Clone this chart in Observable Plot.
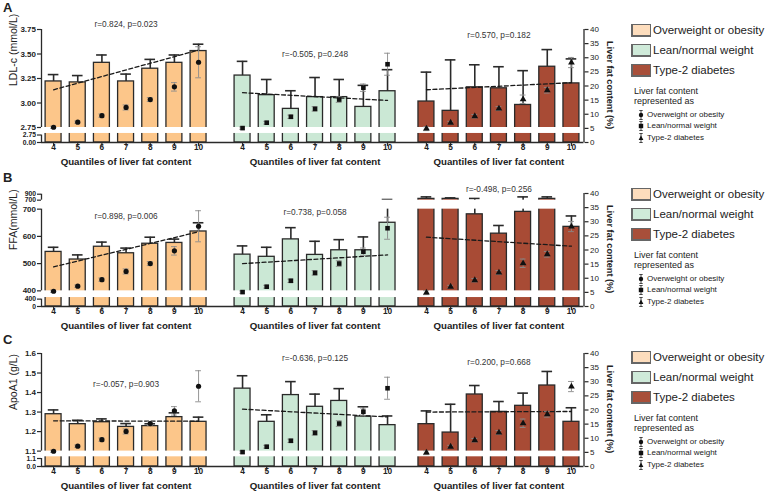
<!DOCTYPE html>
<html><head><meta charset="utf-8">
<script src="https://cdn.jsdelivr.net/npm/d3@7"></script>
<script src="https://cdn.jsdelivr.net/npm/@observablehq/plot@0.6"></script>
<style>
body{margin:0;background:#fff;font-family:"Liberation Sans",Arial,sans-serif;color:#222;}
#root{position:relative;width:767px;height:491px;overflow:hidden;background:#fff;}
.panel{position:absolute;left:0;}
.letter{position:absolute;left:3px;font-weight:bold;font-size:13px;line-height:13px;}
.rtitle{position:absolute;left:604px;width:12px;height:113px;writing-mode:vertical-rl;text-align:center;font-weight:bold;font-size:9.2px;line-height:12px;white-space:nowrap;color:#222;}
.legend{position:absolute;left:0;width:767px;height:160px;pointer-events:none;}
.legend .box{position:absolute;left:631px;width:17px;height:10px;border:1px solid #666;border-left-width:2px;border-bottom-width:2px;}
.legend .big{position:absolute;left:653px;font-size:11.5px;line-height:12px;white-space:nowrap;}
.legend .small{position:absolute;left:634px;font-size:9px;line-height:10px;white-space:nowrap;}
.legend .entry{position:absolute;left:637px;font-size:8px;line-height:10px;white-space:nowrap;display:flex;align-items:center;gap:2px;}
</style></head><body><div id="root"></div><script>
// ---------- data ----------
const quantiles = [4, 5, 6, 7, 8, 9, 10];
const groups = ["Overweight or obesity", "Lean/normal weight", "Type-2 diabetes"];

// Liver fat content (%) per quantile (right axis markers)
const fatObese = [5.4, 7.2, 9.5, 12.4, 15.2, 19.7, 28.4];
const fatObeseSem = [0.4, 0.4, 0.6, 0.9, 0.7, 1.5, 5.5];
const fatLean = [5.1, 7.0, 9.1, 11.9, 15.2, 19.4, 27.7];
const fatLeanSem = [0.4, 0.5, 0.6, 0.8, 1.0, 1.3, 3.9];
const fatT2d = [4.9, 7.0, 9.3, 12.0, 15.3, 18.5, 28.3];
const fatT2dSem = [0.7, 0.5, 0.6, 0.7, 1.5, 1.0, 1.8];

// Panel A: LDL-c (mmol/L)
const ldlObese = [3.22, 3.21, 3.41, 3.22, 3.35, 3.41, 3.53];
const ldlObeseSem = [0.07, 0.07, 0.08, 0.075, 0.095, 0.08, 0.07];
const ldlObeseTrend = [3.135, 3.54];
const ldlLean = [3.28, 3.08, 2.94, 3.06, 3.06, 2.96, 3.12];
const ldlLeanSem = [0.145, 0.16, 0.185, 0.2, 0.18, 0.22, 0.22];
const ldlLeanTrend = [3.105, 3.026];
const ldlT2d = [3.015, 2.92, 3.16, 3.15, 2.98, 3.37, 3.20];
const ldlT2dSem = [0.30, 0.52, 0.23, 0.22, 0.35, 0.175, 0.25];
const ldlT2dTrend = [3.135, 3.207];
const ldlStats = ["r=0.824, p=0.023", "r=-0.505, p=0.248", "r=0.570, p=0.182"];
const ldlTickLower = [0, 2.75];
const ldlTickMain = [2.75, 3.00, 3.25, 3.50, 3.75];

// Panel B: FFA (mmol/L)
const ffaObese = [543, 515, 562, 538, 573, 576, 618];
const ffaObeseSem = [17, 17, 17, 19, 24, 14, 32];
const ffaObeseTrend = [488, 617];
const ffaLean = [533, 525, 589, 532, 549, 549, 650];
const ffaLeanSem = [32, 35, 43, 50, 39, 49, 72];
const ffaLeanTrend = [500, 532];
const ffaT2d = [743, 743, 681, 610, 690, 743, 635];
const ffaT2dSem = [67, 34, 76, 30, 120, 67, 40];
const ffaT2dTrend = [597, 564];
const ffaStats = ["r=0.898, p=0.006", "r=0.738, p=0.058", "r=-0.498, p=0.256"];
const ffaTickLower = [0, 400];
const ffaTickMain = [400, 500, 600, 700];
const ffaTickUpper = [700, 900];

// Panel C: ApoA1 (g/L)
const apoObese = [1.289, 1.238, 1.248, 1.224, 1.228, 1.274, 1.25];
const apoObeseSem = [0.022, 0.02, 0.017, 0.017, 0.012, 0.022, 0.024];
const apoObeseTrend = [1.255, 1.253];
const apoLean = [1.42, 1.25, 1.387, 1.327, 1.357, 1.277, 1.233];
const apoLeanSem = [0.066, 0.036, 0.069, 0.065, 0.063, 0.05, 0.047];
const apoLeanTrend = [1.315, 1.275];
const apoT2d = [1.238, 1.195, 1.39, 1.301, 1.332, 1.436, 1.25];
const apoT2dSem = [0.068, 0.145, 0.046, 0.053, 0.065, 0.072, 0.072];
const apoT2dTrend = [1.30, 1.303];
const apoStats = ["r=-0.057, p=0.903", "r=-0.636, p=0.125", "r=0.200, p=0.668"];
const apoTickLower = [0, 1.1];
const apoTickMain = [1.1, 1.2, 1.3, 1.4, 1.5, 1.6];

// ---------- layout / style ----------
const barColors = ["#FCC68A", "#CBE8D5", "#A84B35"];
const legendColors = ["#FDDDBD", "#CFEAD9", "#A84F3A"];
const symbols = ["circle", "square", "triangle"];
const groupOffset = [0, 7.82, 15.43];
const fat = [[fatObese, fatObeseSem], [fatLean, fatLeanSem], [fatT2d, fatT2dSem]];
const panelTops = [0, 164, 324];
const legendTops = [0, 164, 327];
const letterTops = [1, 171, 333];
const rightTitle = "Liver fat content (%)";

const panels = [
  {
    letter: "A", title: "LDL-c (mmol/L)", stats: ldlStats, statY: [41.8, 31.2, 37.9],
    series: [[ldlObese, ldlObeseSem, ldlObeseTrend], [ldlLean, ldlLeanSem, ldlLeanTrend], [ldlT2d, ldlT2dSem, ldlT2dTrend]],
    // [v0, v1, p0, p1]: left-axis value segments mapped onto the 0-40 % frame
    segs: [[0, 2.75, 0, 2.65], [2.75, 3.75, 5.31, 40]],
    gaps: [[3.2, 5.31]],
    ticks: [[0, ldlTickLower], [1, ldlTickMain]],
    fmt: d3.format(".2f")
  },
  {
    letter: "B", title: "FFA(mmol/L)", stats: ffaStats, statY: [31.9, 33.3, 41.4],
    series: [[ffaObese, ffaObeseSem, ffaObeseTrend], [ffaLean, ffaLeanSem, ffaLeanTrend], [ffaT2d, ffaT2dSem, ffaT2dTrend]],
    segs: [[0, 400, 0, 2.61], [400, 700, 5.54, 34.46], [700, 900, 37.64, 39.75]],
    gaps: [[3.17, 5.54], [34.46, 37.64]],
    ticks: [[0, ffaTickLower], [1, ffaTickMain], [2, ffaTickUpper]],
    fmt: d3.format("d")
  },
  {
    letter: "C", title: "ApoA1 (g/L)", stats: apoStats, statY: [29.0, 38.2, 36.9],
    series: [[apoObese, apoObeseSem, apoObeseTrend], [apoLean, apoLeanSem, apoLeanTrend], [apoT2d, apoT2dSem, apoT2dTrend]],
    segs: [[0, 1.1, 0, 2.83], [1.1, 1.6, 5.45, 40]],
    gaps: [[3.43, 5.45]],
    ticks: [[0, apoTickLower], [1, apoTickMain]],
    fmt: d3.format(".1f")
  }
];

function segAt(segs, k, v) {
  const s = segs[k];
  return s[2] + (v - s[0]) * (s[3] - s[2]) / (s[1] - s[0]);
}
function segMap(segs) {
  return v => {
    let k = 0;
    segs.forEach((s, i) => { if (v >= s[0]) k = i; });
    return segAt(segs, k, v);
  };
}

const X0 = -0.5, X1 = 21.95;
const ink = "#2a2a2a";

function makePanel(cfg) {
  const f = segMap(cfg.segs);
  const rows = [];
  cfg.series.forEach(([mean, sem], g) => mean.forEach((m, i) => rows.push({
    g, q: quantiles[i], x: groupOffset[g] + i, mean: m, sem: sem[i],
    fat: fat[g][0][i], fatSem: fat[g][1][i]
  })));
  const trends = cfg.series.flatMap(([, , tr], g) => [
    {g, x: groupOffset[g], y: tr[0]}, {g, x: groupOffset[g] + 6, y: tr[1]}
  ]);
  const tickSets = cfg.ticks.map(([k, vals]) => ({k, ticks: vals.map(v => ({pos: segAt(cfg.segs, k, v), label: cfg.fmt(v)}))}));
  const centers = groupOffset.map(o => o + 3);
  const statRows = cfg.stats.map((s, g) => ({text: s, x: centers[g], y: cfg.statY[g]}));

  const leftAxes = tickSets.map(({k, ticks}) => {
    const m = new Map(ticks.map(t => [t.pos, t.label]));
    return Plot.axisY(ticks.map(t => t.pos), {
      anchor: "left", tickFormat: p => m.get(p), tickSize: 4, tickPadding: 1.5, label: null,
      fontWeight: "bold", fontSize: k === 1 ? 8 : 6.8, stroke: ink, strokeWidth: 1.2
    });
  });

  return Plot.plot({
    width: 767, height: 175, marginTop: 29, marginBottom: 33, marginLeft: 41, marginRight: 183.5,
    x: {domain: [X0, X1], axis: null},
    y: {domain: [0, 40], axis: null},
    style: {fontFamily: "Liberation Sans, Arial, sans-serif", fontSize: "8px", color: "#222", background: "transparent", overflow: "visible"},
    marks: [
      // bars
      Plot.rect(rows, {x1: d => d.x - 0.33, x2: d => d.x + 0.33, y1: 0, y2: d => f(d.mean),
        fill: d => barColors[d.g], stroke: ink, strokeWidth: 1.3}),
      // bar error bars (upper)
      Plot.ruleX(rows, {x: "x", y1: d => f(d.mean), y2: d => f(d.mean + d.sem), stroke: ink, strokeWidth: 1.6}),
      Plot.ruleY(rows, {y: d => f(d.mean + d.sem), x1: d => d.x - 0.22, x2: d => d.x + 0.22, stroke: ink, strokeWidth: 1.6}),
      // axis breaks
      Plot.rect(cfg.gaps, {y1: d => d[0], y2: d => d[1], fill: "white"}),
      // trend lines
      Plot.line(trends, {x: "x", y: d => f(d.y), z: "g", stroke: "#1a1a1a", strokeWidth: 1.3, strokeDasharray: "4,2.5"}),
      // liver fat markers with error bars
      Plot.ruleX(rows, {x: "x", y1: d => d.fat - d.fatSem, y2: d => d.fat + d.fatSem, stroke: "#8a8a8a", strokeWidth: 0.9}),
      Plot.ruleY(rows, {y: d => d.fat + d.fatSem, x1: d => d.x - 0.12, x2: d => d.x + 0.12, stroke: "#8a8a8a", strokeWidth: 0.9}),
      Plot.ruleY(rows, {y: d => d.fat - d.fatSem, x1: d => d.x - 0.12, x2: d => d.x + 0.12, stroke: "#8a8a8a", strokeWidth: 0.9}),
      ...symbols.map((sym, g) => Plot.dot(rows, {filter: d => d.g === g, x: "x", y: "fat", symbol: sym, r: g === 2 ? 2.5 : 2.6, fill: "#111", stroke: "none"})),
      // x axis
      Plot.ruleY([0], {stroke: ink, strokeWidth: 1.3}),
      Plot.ruleX(rows, {x: "x", y1: 0, y2: -1.4, stroke: ink, strokeWidth: 1.2}),
      Plot.text(rows, {x: "x", text: d => String(d.q), frameAnchor: "bottom", dy: 7, fontWeight: "bold", fontSize: 8.3}),
      Plot.text(centers, {x: d => d, text: () => "Quantiles of liver fat content", frameAnchor: "bottom", dy: 22, fontWeight: "bold", fontSize: 9.7}),
      // left axis (broken)
      Plot.ruleX(cfg.segs, {x: () => X0, y1: d => d[2], y2: d => d[3], stroke: ink, strokeWidth: 1.3}),
      ...leftAxes,
      Plot.text([cfg.title], {text: d => d, frameAnchor: "left", rotate: -90, dx: -28, fontSize: 10.5}),
      // right axis (liver fat %)
      Plot.ruleX([X1], {x: d => d, y1: 0, y2: 40, stroke: ink, strokeWidth: 1.3}),
      Plot.axisY(d3.range(0, 41, 5), {anchor: "right", tickSize: 4, tickPadding: 2, label: null, fontSize: 8, stroke: ink, strokeWidth: 1.2}),
      // correlation labels
      Plot.text(statRows, {x: "x", y: "y", text: "text", fontSize: 8.3, fill: "#333"})
    ]
  });
}

const root = document.getElementById("root");
const glyph = g => {
  const sym = g === 0 ? '<circle cx="4" cy="6" r="2.2" fill="#111"/>'
    : g === 1 ? '<rect x="1.8" y="3.8" width="4.4" height="4.4" fill="#111"/>'
    : '<path d="M4 3.6 L6.4 8 L1.6 8 Z" fill="#111"/>';
  return `<svg width="8" height="12" viewBox="0 0 8 12"><path d="M4 1.5V10.5M2.3 1.5H5.7M2.3 10.5H5.7" stroke="#333" stroke-width="0.9" fill="none"/>${sym}</svg>`;
};

panels.forEach((cfg, p) => {
  const div = document.createElement("div");
  div.className = "panel";
  div.style.top = panelTops[p] + "px";
  div.appendChild(makePanel(cfg));
  root.appendChild(div);

  const rt = document.createElement("div");
  rt.className = "rtitle";
  rt.style.top = (panelTops[p] + 29) + "px";
  rt.textContent = rightTitle;
  root.appendChild(rt);

  const letter = document.createElement("div");
  letter.className = "letter";
  letter.style.top = letterTops[p] + "px";
  letter.textContent = cfg.letter;
  root.appendChild(letter);

  const lg = document.createElement("div");
  lg.className = "legend";
  lg.style.top = legendTops[p] + "px";
  let html = "";
  groups.forEach((name, g) => {
    html += `<div class="box" style="top:${24 + g * 20}px;background:${legendColors[g]}"></div>`;
    html += `<div class="big" style="top:${24 + g * 20}px">${name}</div>`;
  });
  html += `<div class="small" style="top:86px">Liver fat content</div>`;
  html += `<div class="small" style="top:96px">represented as</div>`;
  groups.forEach((name, g) => {
    html += `<div class="entry" style="top:${109 + g * 11.3}px">${glyph(g)}<span>${name}</span></div>`;
  });
  lg.innerHTML = html;
  root.appendChild(lg);
});
</script></body></html>
